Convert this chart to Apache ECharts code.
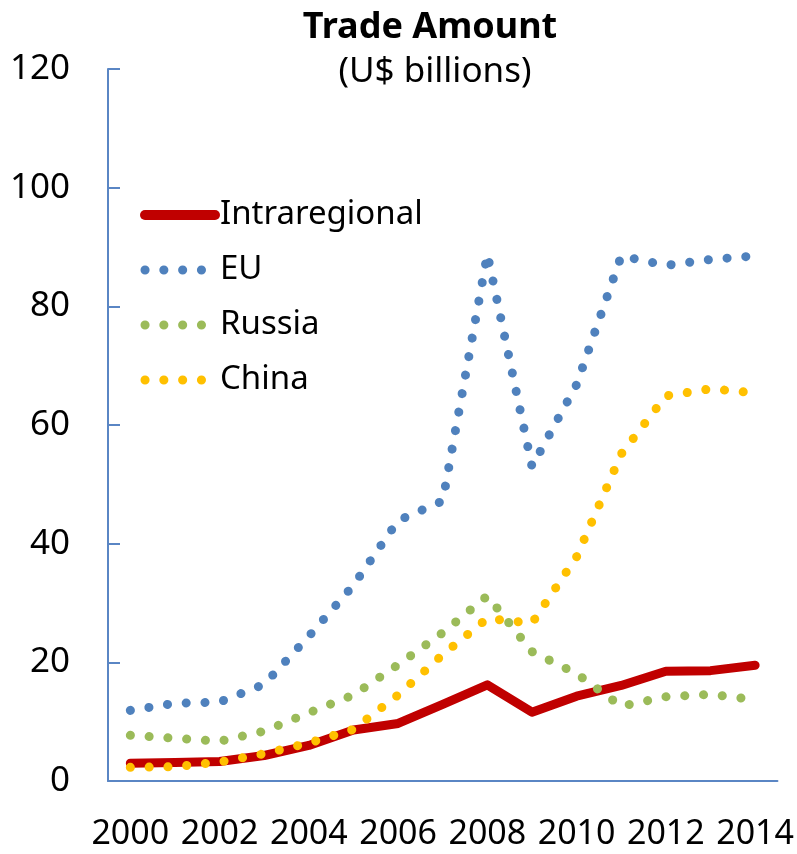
<!DOCTYPE html>
<html>
<head>
<meta charset="utf-8">
<script src="https://cdn.jsdelivr.net/npm/echarts@6/dist/echarts.min.js"></script>
<style>
html, body { margin: 0; padding: 0; background: #fff; }
#chart { width: 797px; height: 854px; }
</style>
</head>
<body>
<div id="chart"></div>
<script>
// years on the x axis
var years = ['2000', '2001', '2002', '2003', '2004', '2005', '2006', '2007',
             '2008', '2009', '2010', '2011', '2012', '2013', '2014'];
// trade amount, U$ billions
var intraregional = [3.0, 3.1, 3.3, 4.3, 6.0, 8.6, 9.7, 12.9, 16.2, 11.6, 14.3, 16.1, 18.5, 18.6, 19.5];
var eu = [11.9, 13.1, 13.3, 16.3, 24.4, 33.0, 43.9, 47.2, 88.8, 53.0, 66.8, 88.5, 86.9, 87.9, 88.5];
var russia = [7.7, 7.2, 6.7, 8.4, 11.5, 14.5, 19.6, 25.0, 31.2, 21.8, 18.1, 12.6, 14.2, 14.6, 13.7];
var china = [2.3, 2.4, 3.2, 4.6, 6.4, 8.7, 14.5, 21.3, 27.4, 26.6, 37.8, 55.1, 64.9, 66.1, 65.4];

var font = 'Noto Sans';
var axisColor = '#5a86c4';
var dots = [0.1, 18.7];   // dotted line: tiny dash + round cap = dot

function dotted(name, data, color) {
    return {
        name: name,
        type: 'line',
        data: data,
        symbol: 'none',
        lineStyle: { color: color, width: 9, type: dots, cap: 'round' },
        itemStyle: { color: color }
    };
}

var chart = echarts.init(document.getElementById('chart'));
chart.setOption({
    animation: false,
    title: [
        {
            text: 'Trade Amount',
            left: 425, top: 5, textAlign: 'center',
            textStyle: { fontFamily: font, fontSize: 36, fontWeight: 'bold', color: '#000' }
        },
        {
            text: '(U$ billions)',
            left: 430, top: 50, textAlign: 'center',
            textStyle: { fontFamily: font, fontSize: 35, fontWeight: 'normal', color: '#000' }
        }
    ],
    legend: {
        orient: 'vertical',
        left: 140, top: 194,
        padding: 0,
        itemWidth: 70, itemHeight: 14,
        itemGap: 13,
        itemTextGap: 4,
        itemStyle: { opacity: 0 },
        textStyle: { fontFamily: font, fontSize: 33, color: '#000', lineHeight: 42 },
        data: [
            { name: 'Intraregional', lineStyle: { width: 10 } },
            { name: 'EU', lineStyle: { width: 9 } },
            { name: 'Russia', lineStyle: { width: 9 } },
            { name: 'China', lineStyle: { width: 9 } }
        ]
    },
    grid: { left: 108, right: 19, top: 69, bottom: 73, containLabel: false },
    xAxis: {
        type: 'category',
        data: years,
        boundaryGap: true,
        axisLine: { lineStyle: { color: axisColor, width: 2 } },
        axisTick: { inside: true, length: 12, interval: 0, lineStyle: { color: axisColor, width: 2 } },
        axisLabel: { interval: 1, margin: 36, fontFamily: font, fontSize: 34, color: '#000' },
        splitLine: { show: false }
    },
    yAxis: {
        type: 'value',
        min: 0, max: 120, interval: 20,
        axisLine: { show: true, lineStyle: { color: axisColor, width: 2 } },
        axisTick: { show: true, inside: true, length: 12, lineStyle: { color: axisColor, width: 2 } },
        axisLabel: { margin: 38, fontFamily: font, fontSize: 35, color: '#000' },
        splitLine: { show: false }
    },
    series: [
        {
            name: 'Intraregional',
            type: 'line',
            data: intraregional,
            symbol: 'none',
            lineStyle: { color: '#c00000', width: 9, cap: 'round', join: 'round' },
            itemStyle: { color: '#c00000' }
        },
        dotted('EU', eu, '#4f81bd'),
        dotted('Russia', russia, '#9bbb59'),
        dotted('China', china, '#ffc000')
    ]
});
</script>
</body>
</html>
